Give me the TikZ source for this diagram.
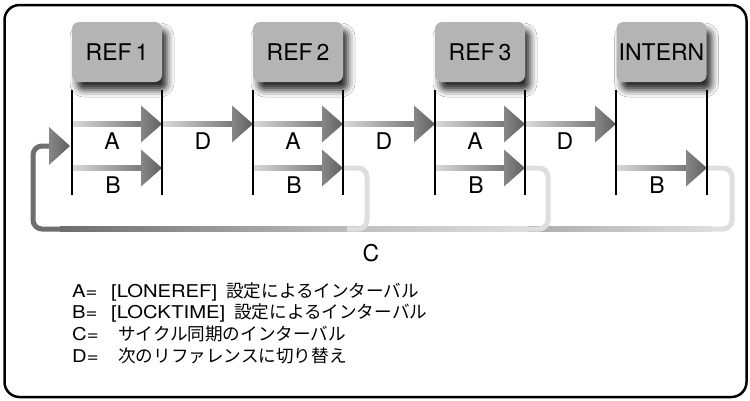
\documentclass[tikz,border=0pt]{standalone}
\usepackage{fontspec}
\setmainfont{TeX Gyre Heros}
\newfontfamily\cjk{Noto Sans CJK JP}
\newfontfamily\widelat[FakeStretch=1.15]{TeX Gyre Heros}
\usetikzlibrary{shadows.blur,calc}
\definecolor{boxgray}{RGB}{180,180,180}
\definecolor{shaftL}{RGB}{218,218,218}
\definecolor{shaftR}{RGB}{120,120,120}
\definecolor{headL}{RGB}{135,135,135}
\definecolor{headR}{RGB}{95,95,95}
\definecolor{loopLight}{RGB}{222,222,222}
\definecolor{loopDark}{RGB}{110,110,110}
\definecolor{loopMid}{RGB}{145,145,145}
\definecolor{loopMid2}{RGB}{155,155,155}
\newcommand\garrow[2]{%
  \shade[left color=shaftL, right color=shaftR] ($(#1)+(0,-2.5)$) rectangle ($(#2)+(-19,2.5)$);
  \shade[left color=headL, right color=headR] (#2) -- ($(#2)+(-21,-18.5)$) -- ($(#2)+(-21,18.5)$) -- cycle;
}
\newcommand\jp[1]{{\cjk #1}}
\begin{document}
\begin{tikzpicture}[x=1pt,y=-1pt,
  refbox/.style={fill=boxgray, rounded corners=7pt, minimum width=90pt, minimum height=60pt, inner sep=0pt,
    font=\fontsize{23}{27}\selectfont,
    blur shadow={shadow xshift=5pt, shadow yshift=-8pt, shadow blur radius=7pt, shadow opacity=85}},
  lbl/.style={font=\fontsize{23}{27}\selectfont, inner sep=0pt},
  legend/.style={anchor=west, font=\fontsize{17.6}{21}\widelat, inner sep=0pt},
  vline/.style={line width=1.1pt, black},
  loopline/.style={line width=5pt, rounded corners=9pt},
]
\useasboundingbox (0,0) rectangle (750,400);
\fill[white] (0,0) rectangle (750,400);
\draw[line width=2.5pt, rounded corners=15pt] (4.5,5) rectangle (746.5,397);

% boxes
\node[refbox] (ref1) at (117,52) {REF\,1};
\node[refbox] (ref2) at (298,52) {REF\,2};
\node[refbox] (ref3) at (480,52) {REF\,3};
\node[refbox] (ref4) at (661.5,52) {INTERN};

% coordinates
\foreach \i/\l/\r in {1/72/162, 2/253/343, 3/435/525, 4/616/707}{
  \coordinate (L\i T) at (\l,90);  \coordinate (L\i D) at (\l,195);
  \coordinate (R\i T) at (\r,90);  \coordinate (R\i D) at (\r,195);
  \coordinate (L\i A) at (\l,124); \coordinate (R\i A) at (\r,124);
  \coordinate (L\i B) at (\l,168); \coordinate (R\i B) at (\r,168);
}
\coordinate (loop3c) at (732,168); \coordinate (loop3d) at (732,229);
\coordinate (loop2c) at (548,168); \coordinate (loop2d) at (548,229);
\coordinate (loop1c) at (367,168); \coordinate (loop1d) at (367,229);
\coordinate (loopBL) at (33,229); \coordinate (loopTL) at (33,146);
\coordinate (entry) at (70,146);

% loops (C)
\draw[loopline, draw=loopLight] (R4B) -- (loop3c) -- (loop3d) -- ++(-22,0);
\shade[left color=loopMid2, right color=loopLight] (465,226.5) rectangle (712,231.5);
\draw[loopline, draw=loopLight] (R3B) -- (loop2c) -- (loop2d) -- ++(-22,0);
\shade[left color=loopMid, right color=loopLight] (100,226.5) rectangle (528,231.5);
\draw[loopline, draw=loopLight] (R2B) -- (loop1c) -- (loop1d) -- ++(-22,0);
\shade[left color=loopDark, right color=loopLight!85!black] (60,226.5) rectangle (347,231.5);
\draw[loopline, draw=loopDark] (70,229) -- (loopBL) -- (loopTL) -- (52,146);
\shade[left color=headL, right color=headR] (entry) -- ++(-21,-19) -- ++(0,38) -- cycle;

% A arrows
\garrow{L1A}{R1A}
\garrow{L2A}{R2A}
\garrow{L3A}{R3A}
% D arrows
\garrow{R1A}{L2A}
\garrow{R2A}{L3A}
\garrow{R3A}{L4A}
% B arrows
\garrow{L1B}{R1B}
\garrow{L2B}{R2B}
\garrow{L3B}{R3B}
\garrow{L4B}{R4B}

% vertical lines
\foreach \i in {1,2,3,4}{
  \draw[vline] (L\i T) -- (L\i D);
  \draw[vline] (R\i T) -- (R\i D);
}

% labels
\node[lbl] (la1) at (112,141) {A};
\node[lbl] (la2) at (293,141) {A};
\node[lbl] (la3) at (475,141) {A};
\node[lbl] (ld1) at (203,141) {D};
\node[lbl] (ld2) at (384,141) {D};
\node[lbl] (ld3) at (565,141) {D};
\node[lbl] (lb1) at (113,185) {B};
\node[lbl] (lb2) at (294,185) {B};
\node[lbl] (lb3) at (476,185) {B};
\node[lbl] (lb4) at (657,185) {B};
\node[lbl] (lc) at (371,253) {C};

% legend
\node[legend] (legA) at (72,292) {\makebox[39pt][l]{A=}[LONEREF]\hspace{9pt}\jp{設定によるインターバル}};
\node[legend] (legB) at (72,313) {\makebox[39pt][l]{B=}[LOCKTIME]\hspace{9pt}\jp{設定によるインターバル}};
\node[legend] (legC) at (72,334) {\makebox[46pt][l]{C=}\jp{サイクル同期のインターバル}};
\node[legend] (legD) at (72,356) {\makebox[46pt][l]{D=}\jp{次のリファレンスに切り替え}};
\end{tikzpicture}
\end{document}
